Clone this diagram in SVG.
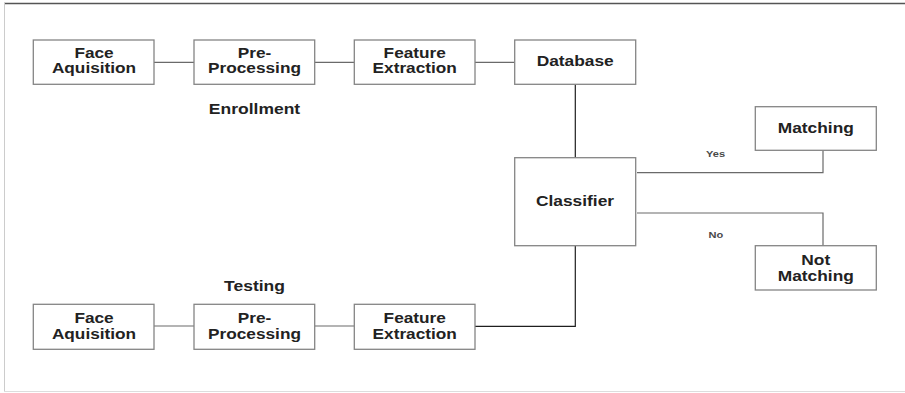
<svg xmlns="http://www.w3.org/2000/svg" width="905" height="393" viewBox="0 0 905 393">
  <style>
    .box { fill: #ffffff; stroke: #858585; stroke-width: 1.3; }
    .wire { fill: none; stroke: #6a6a6a; stroke-width: 1.2; }
    .wire-dark { fill: none; stroke: #1e1e1e; stroke-width: 1.2; }
    .lbl { font-family: "Liberation Sans", Arial, sans-serif; font-weight: bold; font-size: 14px; fill: #222222; text-anchor: middle; }
    .small { font-family: "Liberation Sans", Arial, sans-serif; font-weight: bold; font-size: 8.5px; fill: #4a4a4a; text-anchor: middle; }
  </style>

  <!-- frame -->
  <rect x="0" y="0" width="905" height="393" fill="#ffffff"/>
  <line x1="4" y1="3.5" x2="905" y2="3.5" stroke="#555555" stroke-width="1.5"/>
  <line x1="4.5" y1="3" x2="4.5" y2="392" stroke="#cccccc" stroke-width="1"/>
  <line x1="4" y1="391.5" x2="905" y2="391.5" stroke="#dddddd" stroke-width="1.2"/>

  <!-- connectors -->
  <g id="connectors">
    <line class="wire" x1="154" y1="62.3" x2="194" y2="62.3"/>
    <line class="wire" x1="314.7" y1="62.3" x2="354.3" y2="62.3"/>
    <line class="wire" x1="475" y1="62.3" x2="514.7" y2="62.3"/>
    <line class="wire-dark" x1="575.3" y1="84.3" x2="575.3" y2="157.7"/>
    <line class="wire" x1="154" y1="326" x2="194" y2="326"/>
    <line class="wire" x1="314.7" y1="326" x2="354.3" y2="326"/>
    <polyline class="wire-dark" points="475,326.3 575.3,326.3 575.3,245.7"/>
    <polyline class="wire" points="637,172.7 823,172.7 823,150.3"/>
    <polyline class="wire" points="637,213 823,213 823,245.7"/>
  </g>

  <!-- enrollment row -->
  <g id="enroll-face">
    <rect class="box" x="33.3" y="40" width="120.7" height="44.3"/>
    <text class="lbl" transform="translate(94,58.3) scale(1.23,1)">Face</text>
    <text class="lbl" transform="translate(94,72.7) scale(1.23,1)">Aquisition</text>
  </g>
  <g id="enroll-pre">
    <rect class="box" x="194" y="40" width="120.7" height="44.3"/>
    <text class="lbl" transform="translate(254.5,58.3) scale(1.23,1)">Pre-</text>
    <text class="lbl" transform="translate(254.5,72.7) scale(1.23,1)">Processing</text>
  </g>
  <g id="enroll-feature">
    <rect class="box" x="354.3" y="40" width="120.7" height="44.3"/>
    <text class="lbl" transform="translate(414.7,58.3) scale(1.23,1)">Feature</text>
    <text class="lbl" transform="translate(414.7,72.7) scale(1.23,1)">Extraction</text>
  </g>
  <g id="database">
    <rect class="box" x="514.7" y="40" width="121" height="44.3"/>
    <text class="lbl" transform="translate(575.2,66) scale(1.24,1)">Database</text>
  </g>
  <text id="enrollment-title" class="lbl" transform="translate(254.5,114) scale(1.25,1)">Enrollment</text>

  <!-- classifier and outcomes -->
  <g id="classifier">
    <rect class="box" x="514.7" y="157.7" width="121" height="88"/>
    <text class="lbl" transform="translate(575,206) scale(1.24,1)">Classifier</text>
  </g>
  <g id="matching">
    <rect class="box" x="755.3" y="106.7" width="121" height="43.6"/>
    <text class="lbl" transform="translate(815.8,132.7) scale(1.24,1)">Matching</text>
  </g>
  <g id="not-matching">
    <rect class="box" x="755.3" y="245.7" width="121" height="44.3"/>
    <text class="lbl" transform="translate(815.8,264.7) scale(1.24,1)">Not</text>
    <text class="lbl" transform="translate(815.8,280.7) scale(1.24,1)">Matching</text>
  </g>
  <text class="small" transform="translate(715.5,156.6) scale(1.3,1)">Yes</text>
  <text class="small" transform="translate(715.8,238.3) scale(1.3,1)">No</text>

  <!-- testing row -->
  <text id="testing-title" class="lbl" transform="translate(254.5,290.7) scale(1.25,1)">Testing</text>
  <g id="test-face">
    <rect class="box" x="33.3" y="304.3" width="120.7" height="45"/>
    <text class="lbl" transform="translate(94,323.3) scale(1.23,1)">Face</text>
    <text class="lbl" transform="translate(94,339) scale(1.23,1)">Aquisition</text>
  </g>
  <g id="test-pre">
    <rect class="box" x="194" y="304.3" width="120.7" height="45"/>
    <text class="lbl" transform="translate(254.5,323.3) scale(1.23,1)">Pre-</text>
    <text class="lbl" transform="translate(254.5,339) scale(1.23,1)">Processing</text>
  </g>
  <g id="test-feature">
    <rect class="box" x="354.3" y="304.3" width="120.7" height="45"/>
    <text class="lbl" transform="translate(414.7,323.3) scale(1.23,1)">Feature</text>
    <text class="lbl" transform="translate(414.7,339) scale(1.23,1)">Extraction</text>
  </g>
</svg>
